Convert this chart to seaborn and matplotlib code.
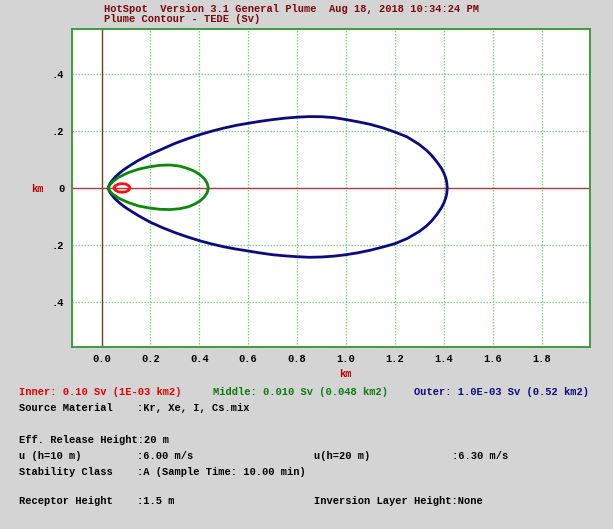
import matplotlib
matplotlib.use("Agg")
import matplotlib.pyplot as plt
import seaborn as sns
import pandas as pd

# ---- data (km) ----
outer_x = [0.027, 0.031, 0.037, 0.045, 0.055, 0.07, 0.09, 0.109, 0.15, 0.198, 0.25, 0.30, 0.35, 0.402, 0.45, 0.50, 0.55, 0.60, 0.65, 0.70,
           0.75, 0.80, 0.85, 0.90, 0.95, 1.00, 1.05, 1.10, 1.15, 1.20, 1.25, 1.30, 1.33, 1.35, 1.37, 1.39, 1.40, 1.408, 1.412, 1.414,
           1.412, 1.408, 1.40, 1.39, 1.37, 1.35, 1.33, 1.30, 1.25, 1.20, 1.15, 1.10, 1.05, 1.00, 0.95, 0.90, 0.85, 0.80, 0.75, 0.70,
           0.65, 0.60, 0.55, 0.50, 0.45, 0.402, 0.35, 0.30, 0.25, 0.198, 0.15, 0.109, 0.09, 0.07, 0.055, 0.045, 0.037, 0.031, 0.027]
outer_y = [0.0, 0.010, 0.019, 0.028, 0.038, 0.050, 0.064, 0.075, 0.097, 0.118, 0.138, 0.157, 0.173, 0.188, 0.200, 0.211, 0.2205, 0.228, 0.235, 0.241,
           0.246, 0.2495, 0.2515, 0.251, 0.248, 0.241, 0.233, 0.224, 0.212, 0.197, 0.180, 0.153, 0.132, 0.115, 0.094, 0.070, 0.053, 0.035, 0.020, 0.0,
           -0.020, -0.035, -0.053, -0.070, -0.095, -0.116, -0.133, -0.153, -0.178, -0.196, -0.208, -0.219, -0.228, -0.235, -0.240, -0.243, -0.244, -0.242, -0.239, -0.235,
           -0.229, -0.222, -0.215, -0.207, -0.197, -0.186, -0.172, -0.157, -0.140, -0.120, -0.097, -0.075, -0.064, -0.050, -0.038, -0.028, -0.019, -0.010, 0.0]

middle_x = [0.028, 0.033, 0.045, 0.07, 0.109, 0.15, 0.198, 0.24, 0.28, 0.32, 0.355, 0.38, 0.402, 0.42, 0.432, 0.437,
            0.432, 0.42, 0.402, 0.38, 0.355, 0.32, 0.28, 0.24, 0.198, 0.15, 0.109, 0.07, 0.045, 0.033, 0.028]
middle_y = [0.0, 0.010, 0.022, 0.038, 0.054, 0.066, 0.075, 0.080, 0.081, 0.077, 0.068, 0.059, 0.047, 0.033, 0.017, 0.0,
            -0.017, -0.032, -0.046, -0.057, -0.066, -0.073, -0.076, -0.075, -0.071, -0.063, -0.051, -0.036, -0.021, -0.010, 0.0]

inner_x = [0.051, 0.0554, 0.0673, 0.0835, 0.0998, 0.1116, 0.116, 0.1116, 0.0998, 0.0835, 0.0673, 0.0554, 0.051]
inner_y = [0.0, 0.0078, 0.0134, 0.0155, 0.0134, 0.0078, 0.0, -0.0075, -0.0130, -0.0150, -0.0130, -0.0075, 0.0]

x_ticks = [0.0, 0.2, 0.4, 0.6, 0.8, 1.0, 1.2, 1.4, 1.6, 1.8]
x_tick_labels = ["0.0", "0.2", "0.4", "0.6", "0.8", "1.0", "1.2", "1.4", "1.6", "1.8"]
y_ticks = [-0.4, -0.2, 0.0, 0.2, 0.4]
y_tick_labels = [".4", ".2", "0", ".2", ".4"]

title_lines = ["HotSpot  Version 3.1 General Plume  Aug 18, 2018 10:34:24 PM",
               "Plume Contour - TEDE (Sv)"]
legend_texts = ["Inner: 0.10 Sv (1E-03 km2)",
                "Middle: 0.010 Sv (0.048 km2)",
                "Outer: 1.0E-03 Sv (0.52 km2)"]

# ---- build table ----
frames = []
for name, xs, ys in [("outer", outer_x, outer_y), ("middle", middle_x, middle_y), ("inner", inner_x, inner_y)]:
    frames.append(pd.DataFrame({"x": xs, "y": ys, "contour": name, "order": range(len(xs))}))
df = pd.concat(frames, ignore_index=True)

sns.set_style("white")
plt.rcParams["font.family"] = ["Liberation Mono", "DejaVu Sans"]
plt.rcParams["font.weight"] = "bold"

BG = "#d4d4d4"
fig = plt.figure(figsize=(6.13, 5.29), dpi=100, facecolor=BG)
ax = fig.add_axes([71.5 / 613, 1 - 347 / 529, (590 - 71.5) / 613, (347 - 29) / 529])
ax.set_facecolor("white")

ax.set_xlim(-0.123, 1.998)
ax.set_ylim(-0.56, 0.56)

# grid
for xv in x_ticks[1:]:
    ax.axvline(xv, color="#7fcf7f", lw=0.9, ls=(0, (1.2, 1.2)), zorder=1)
for yv in [-0.4, -0.2, 0.2, 0.4]:
    ax.axhline(yv, color="#7fcf7f", lw=0.9, ls=(0, (1.2, 1.2)), zorder=1)
ax.axvline(0.0, color="#5a4a28", lw=1.0, zorder=2)
ax.axhline(0.0, color="#b03a3a", lw=1.0, zorder=2)

palette = {"outer": "#0a0a82", "middle": "#0a8a0a", "inner": "#ff1010"}
sns.lineplot(data=df, x="x", y="y", hue="contour", palette=palette, sort=False,
             estimator=None, units="contour", legend=False, lw=2.0, ax=ax, zorder=3,
             solid_joinstyle="round", solid_capstyle="round")

ax.set_xticks(x_ticks)
ax.set_xticklabels(x_tick_labels)
ax.set_yticks(y_ticks)
ax.set_yticklabels(y_tick_labels)
ax.tick_params(length=0, labelsize=7.5, pad=5, labelcolor="black")
for lab in ax.get_xticklabels() + ax.get_yticklabels():
    lab.set_fontweight("bold")
ax.set_xlabel("")
ax.set_ylabel("")
for s in ax.spines.values():
    s.set_visible(True)
    s.set_color("#2f9a2f")
    s.set_linewidth(1.3)

def ftext(x, y, s, color="black", **kw):
    fig.text(x / 613, 1 - y / 529, s, color=color, fontsize=7.5, fontweight="bold",
             va="center", ha=kw.pop("ha", "left"), **kw)

ftext(104, 8.5, title_lines[0], color="#7a0a0a")
ftext(104, 19, title_lines[1], color="#7a0a0a")
ftext(37, 189, "km", color="#c00000", ha="center")
ftext(345, 374, "km", color="#c00000", ha="center")

ftext(19, 392, legend_texts[0], color="#e00000")
ftext(213, 392, legend_texts[1], color="#0a7a0a")
ftext(414, 392, legend_texts[2], color="#0a0a82")

ftext(19, 408, "Source Material")
ftext(137, 408, ":Kr, Xe, I, Cs.mix")
ftext(19, 440, "Eff. Release Height:20 m")
ftext(19, 456, "u (h=10 m)")
ftext(137, 456, ":6.00 m/s")
ftext(314, 456, "u(h=20 m)")
ftext(452, 456, ":6.30 m/s")
ftext(19, 472, "Stability Class")
ftext(137, 472, ":A (Sample Time: 10.00 min)")
ftext(19, 501, "Receptor Height")
ftext(137, 501, ":1.5 m")
ftext(314, 501, "Inversion Layer Height:None")

fig.savefig("out.png", dpi=100, facecolor=BG)
